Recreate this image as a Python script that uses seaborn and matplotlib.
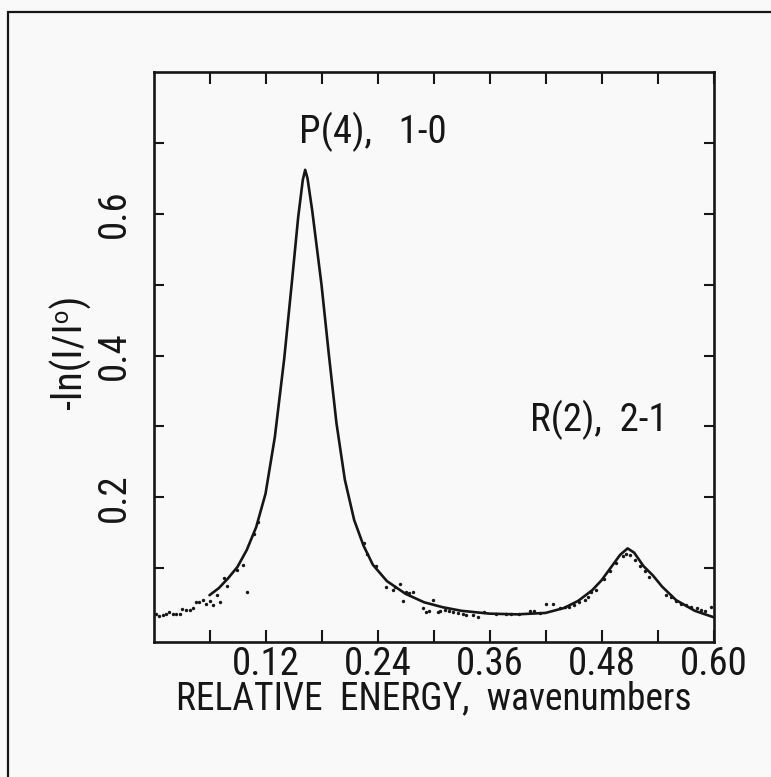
import matplotlib
matplotlib.use("Agg")
import matplotlib.pyplot as plt
from matplotlib.lines import Line2D
from matplotlib import font_manager as fm
import seaborn as sns
import pandas as pd

# ---- fitted curve ----
fit_x = [0.060, 0.070, 0.080, 0.090, 0.100, 0.110, 0.120, 0.130, 0.140, 0.148,
         0.155, 0.160, 0.1625, 0.165, 0.170, 0.180, 0.188, 0.196, 0.205, 0.215,
         0.225, 0.235, 0.250, 0.270, 0.290, 0.310, 0.330, 0.360, 0.390, 0.420,
         0.440, 0.455, 0.470, 0.480, 0.490, 0.500, 0.508, 0.515, 0.525, 0.535,
         0.545, 0.560, 0.580, 0.600]
fit_y = [0.062, 0.072, 0.086, 0.102, 0.126, 0.158, 0.205, 0.285, 0.395, 0.500,
         0.595, 0.648, 0.662, 0.650, 0.605, 0.500, 0.400, 0.305, 0.225, 0.168,
         0.132, 0.105, 0.082, 0.064, 0.052, 0.045, 0.040, 0.036, 0.035, 0.037,
         0.044, 0.054, 0.069, 0.083, 0.101, 0.119, 0.128, 0.122, 0.103, 0.090,
         0.074, 0.055, 0.040, 0.031]

obs_x = [0.003, 0.0064, 0.010, 0.0136, 0.017, 0.021, 0.024, 0.028, 0.031, 0.035,
         0.0386, 0.042, 0.046, 0.049, 0.053, 0.056, 0.060, 0.0636, 0.068, 0.0715,
         0.075, 0.0786, 0.089, 0.0964, 0.100, 0.108, 0.112, 0.225, 0.229, 0.2386,
         0.249, 0.2564, 0.259, 0.2636, 0.267, 0.271, 0.274, 0.278, 0.2885, 0.292,
         0.2957, 0.299, 0.305, 0.3065, 0.312, 0.317, 0.3207, 0.326, 0.3314, 0.335,
         0.342, 0.3475, 0.3546, 0.367, 0.378, 0.383, 0.392, 0.403, 0.408, 0.4136,
         0.421, 0.428, 0.435, 0.4404, 0.4457, 0.451, 0.4564, 0.462, 0.4654, 0.469,
         0.4743, 0.4832, 0.4886, 0.496, 0.503, 0.5065, 0.510, 0.5154, 0.521, 0.5264,
         0.5314, 0.5493, 0.5547, 0.560, 0.5654, 0.571, 0.5764, 0.582, 0.587, 0.5904,
         0.5975]
obs_y = [0.036, 0.032, 0.034, 0.036, 0.039, 0.035, 0.035, 0.035, 0.043, 0.041,
         0.041, 0.044, 0.052, 0.052, 0.055, 0.050, 0.054, 0.048, 0.062, 0.052,
         0.086, 0.075, 0.097, 0.104, 0.066, 0.148, 0.165, 0.135, 0.120, 0.1026,
         0.073, 0.070, 0.074, 0.0776, 0.054, 0.067, 0.065, 0.066, 0.044, 0.039,
         0.040, 0.055, 0.039, 0.040, 0.041, 0.040, 0.039, 0.037, 0.036, 0.034,
         0.034, 0.031, 0.038, 0.035, 0.035, 0.035, 0.036, 0.040, 0.040, 0.037,
         0.049, 0.049, 0.044, 0.046, 0.046, 0.048, 0.052, 0.055, 0.060, 0.066,
         0.0695, 0.0847, 0.0955, 0.107, 0.117, 0.1206, 0.119, 0.112, 0.1035, 0.0955,
         0.087, 0.063, 0.059, 0.054, 0.050, 0.048, 0.046, 0.0435, 0.041, 0.040,
         0.046]

x_major = [0.12, 0.24, 0.36, 0.48, 0.60]
x_minor = [0.06, 0.18, 0.30, 0.42, 0.54]
x_labels = ["0.12", "0.24", "0.36", "0.48", "0.60"]
y_major = [0.2, 0.4, 0.6]
y_minor = [0.1, 0.3, 0.5, 0.7]
y_labels = ["0.2", "0.4", "0.6"]

peak_labels = ["P(4),   1-0", "R(2),  2-1"]
peak_label_x = [0.156, 0.403]
peak_label_y = [0.700, 0.294]

sns.set_theme(style="ticks")


# ---- pick a condensed/narrow face if one is installed ----
def pick_condensed():
    prefs = ["Liberation Sans Narrow", "Roboto Condensed", "Open Sans Condensed",
             "Noto Sans Condensed", "DejaVu Sans Condensed", "DejaVu Sans"]
    found = []
    for f in fm.fontManager.ttflist:
        st = str(f.stretch).lower()
        nm = f.name
        is_narrow = ("narrow" in nm.lower() or "condensed" in nm.lower()
                     or st in ("condensed", "semi-condensed", "extra-condensed",
                               "ultra-condensed"))
        if not is_narrow:
            continue
        if f.style != "normal":
            continue
        w = f.weight
        if isinstance(w, str):
            w = {"normal": 400, "regular": 400, "book": 400}.get(w.lower(), 700)
        if w > 500 or w < 300:
            continue
        found.append(f)
    for p in prefs:
        for f in found:
            if f.name == p:
                return f
    return found[0] if found else None


cf = pick_condensed()
if cf is not None:
    FAMILY = [cf.name, "DejaVu Sans"]
    STRETCH = cf.stretch
    SCALE = 1.0
else:
    FAMILY = ["Liberation Sans", "DejaVu Sans"]
    STRETCH = "normal"
    SCALE = 0.86
plt.rcParams["font.family"] = FAMILY
plt.rcParams["font.stretch"] = STRETCH if isinstance(STRETCH, str) else "condensed"

INK = "#161616"
BG = "#f9f9f9"
FS = 28 * SCALE

fig = plt.figure(figsize=(7.71, 7.77), dpi=100, facecolor=BG)
ax = fig.add_axes([153.5 / 771, 1 - 642 / 777, 560 / 771, 570 / 777])
ax.set_facecolor(BG)

fit_df = pd.DataFrame({"x": fit_x, "y": fit_y})
obs_df = pd.DataFrame({"x": obs_x, "y": obs_y})
sns.lineplot(data=fit_df, x="x", y="y", ax=ax, color=INK, lw=1.9, sort=False)
sns.scatterplot(data=obs_df, x="x", y="y", ax=ax, color=INK, s=6, marker="o",
                linewidth=0)

ax.set_xlim(0, 0.6)
ax.set_ylim(-0.004, 0.80)

ax.set_xticks(x_major)
ax.set_xticklabels(x_labels)
ax.set_xticks(x_minor, minor=True)
ax.set_yticks(y_major)
ax.set_yticklabels(y_labels, rotation=90, va="center")
ax.set_yticks(y_minor, minor=True)

ax.tick_params(axis="x", which="both", direction="in", length=8.5, width=1.5,
               color=INK, top=True, bottom=True, labelsize=FS, pad=3,
               labelcolor=INK)
ax.tick_params(axis="y", which="both", direction="in", length=7, width=1.5,
               color=INK, left=True, right=True, labelsize=FS, pad=15,
               labelcolor=INK)
for sp in ax.spines.values():
    sp.set_linewidth(1.9)
    sp.set_color(INK)

ax.set_xlabel("RELATIVE  ENERGY,  wavenumbers", fontsize=27 * SCALE, color=INK)
ax.xaxis.set_label_coords(0.5, -0.068)
ax.xaxis.label.set_va("top")
ax.set_ylabel("-ln(I/I\u1d52)", fontsize=29 * SCALE, color=INK)
ax.yaxis.set_label_coords(-0.112, 0.509)

for t, xx, yy in zip(peak_labels, peak_label_x, peak_label_y):
    ax.text(xx, yy, t, fontsize=FS, color=INK, ha="left", va="baseline")

# outer frame of the scanned page
fig.add_artist(Line2D([8 / 771, 8 / 771], [0, 1 - 12 / 777],
                      transform=fig.transFigure, color=INK, lw=1.6))
fig.add_artist(Line2D([8 / 771, 1], [1 - 12 / 777, 1 - 12 / 777],
                      transform=fig.transFigure, color=INK, lw=1.6))

fig.savefig("out.png", dpi=100, facecolor=BG)
